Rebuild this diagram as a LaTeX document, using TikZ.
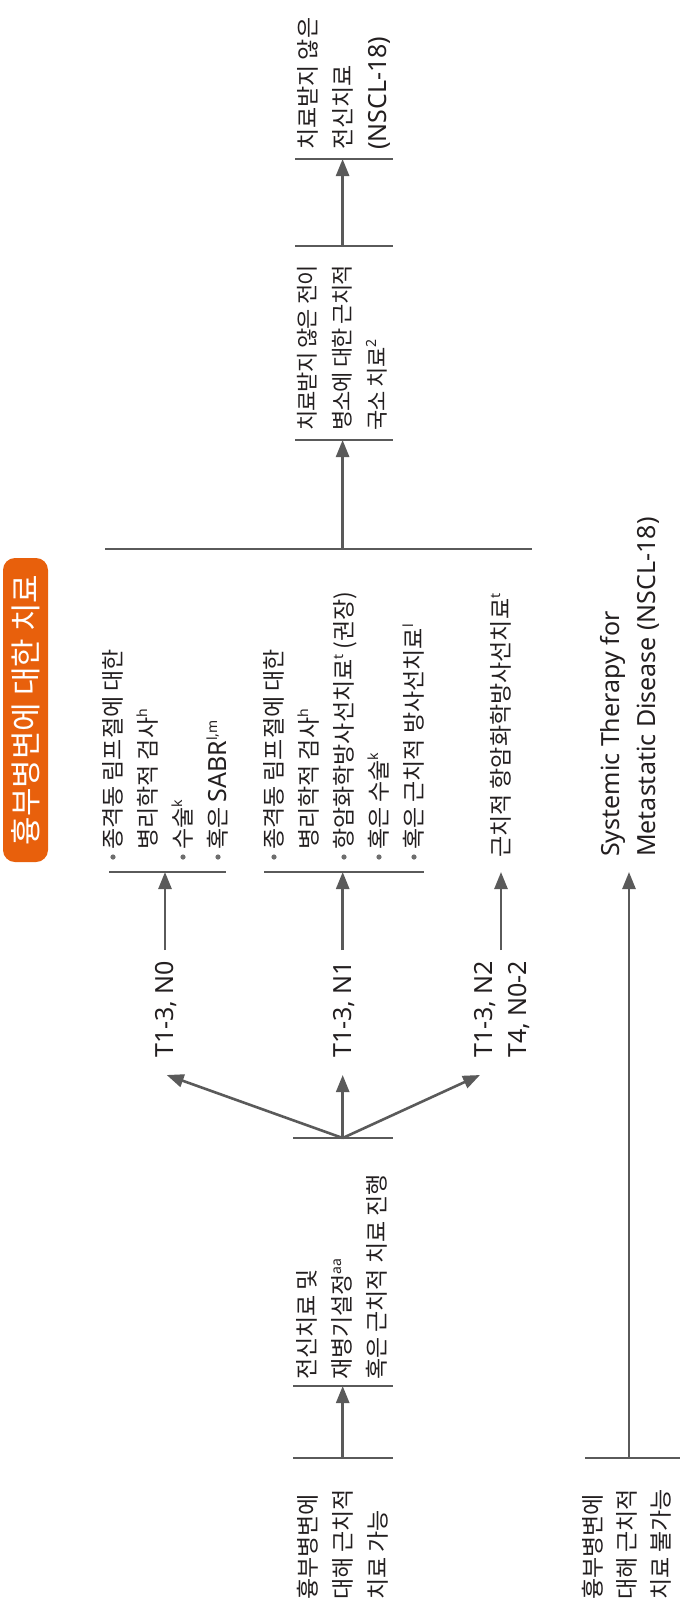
\documentclass[tikz,border=0pt]{standalone}
\usepackage{fontspec}
\setmainfont{Noto Sans CJK KR}
\newfontfamily\krtight{Noto Sans CJK KR}[LetterSpace=-4]
\newfontfamily\latinfont{Noto Sans}
\usetikzlibrary{arrows.meta}
\definecolor{ink}{HTML}{231F20}
\definecolor{wire}{HTML}{5A5A5A}
\definecolor{dotgray}{HTML}{6D6D6D}
\definecolor{banner}{HTML}{E8600C}
\newcommand{\kt}{\fontsize{23}{28}\selectfont}
\newcommand{\ks}{\krtight\fontsize{22}{26}\selectfont}
\newcommand{\la}[1]{{\latinfont\fontsize{25}{28}\selectfont #1}}
\newcommand{\sps}[1]{\raisebox{9.5pt}{\latinfont\fontsize{14}{14}\selectfont #1}}

\begin{document}
\begin{tikzpicture}[x=1pt,y=-1pt,
  ln/.style={rotate=90,anchor=base west,inner sep=0pt,text=ink,font=\kt},
  lnsmall/.style={ln,font=\ks},
  bar/.style={draw=wire,line width=2.6pt},
  arr/.style={draw=wire,line width=2.6pt,-{Triangle[length=17pt,width=13pt]}},
  bul/.style={fill=dotgray},
  banner box/.style={fill=banner,rounded corners=12pt,rotate=90,inner sep=0pt,
    minimum width=304pt,minimum height=45pt,text=white,
    font=\fontsize{31}{33}\selectfont}]

\fill[white] (0,0) rectangle (680,1604);
\useasboundingbox (0,0) rectangle (680,1604);

% heading
\node[banner box] (title) at (25.5,710) {흉부병변에 대한 치료};

% systemic therapy for untreated disease
\node[ln] (ua) at (316,150) {치료받지 않은};
\node[ln] (ub) at (351,150) {전신치료};
\node[ln] (uc) at (386,150) {\la{(NSCL-18)}};
\draw[bar] (295,159) -- (393,159);
\coordinate (topin) at (342.6,159);

% local therapy for remaining lesions
\node[lnsmall] (ra) at (315.5,431) {치료받지 않은 전이};
\node[lnsmall] (rb) at (350.5,431) {병소에 대한 근치적};
\node[lnsmall] (rc) at (385.5,431) {국소 치료\sps{2}};
\draw[bar] (295,246) -- (393,246);
\draw[bar] (295,440) -- (393,440);
\coordinate (loctop) at (342.6,246);
\coordinate (locbot) at (342.6,440);
\draw[arr] (loctop) -- (topin);

% collecting bar over the three branches
\draw[bar] (105,549) -- (532,549);
\coordinate (merge) at (342.6,549);
\draw[arr] (merge) -- (locbot);

% branch T1-3, N0
\node[ln] (n0a) at (121.7,850) {종격동 림프절에 대한};
\node[ln] (n0b) at (156.7,850) {병리학적 검사\sps{h}};
\node[ln] (n0c) at (191.7,850) {수술\sps{k}};
\node[ln] (n0d) at (226.7,850) {혹은 \la{SABR}\sps{l,m}};
\foreach \bx in {113,183,218} \fill[bul] (\bx,857) circle (2.6pt);
\draw[bar] (109,872) -- (226,872);
\coordinate (n0in) at (165,872);
\node[ln] (l0) at (173.9,1058) {\la{T1-3, N0}};
\coordinate (l0top) at (165,950);
\draw[arr] (l0top) -- (n0in);

% branch T1-3, N1
\node[ln] (n1a) at (282.7,850) {종격동 림프절에 대한};
\node[ln] (n1b) at (317.7,850) {병리학적 검사\sps{h}};
\node[ln] (n1c) at (352.7,850) {항암화학방사선치료\sps{t} (권장)};
\node[ln] (n1d) at (387.7,850) {혹은 수술\sps{k}};
\node[ln] (n1e) at (422.7,850) {혹은 근치적 방사선치료\sps{l}};
\foreach \bx in {274,344,379,414} \fill[bul] (\bx,857) circle (2.6pt);
\draw[bar] (264,872) -- (424,872);
\coordinate (n1in) at (342.7,872);
\node[ln] (l1) at (351.6,1058) {\la{T1-3, N1}};
\coordinate (l1top) at (342.7,950);
\draw[arr] (l1top) -- (n1in);

% branch T1-3, N2 / T4, N0-2
\node[ln] (n2a) at (509.7,858) {근치적 항암화학방사선치료\sps{t}};
\coordinate (n2in) at (501,872);
\node[ln] (l2a) at (492.9,1058) {\la{T1-3, N2}};
\node[ln] (l2b) at (526.9,1058) {\la{T4, N0-2}};
\coordinate (l2top) at (501,950);
\draw[arr] (l2top) -- (n2in);

% split into the three branches
\draw[bar] (293,1138) -- (393,1138);
\coordinate (fan) at (342.7,1138);
\coordinate (f0) at (166.7,1075);
\coordinate (f1) at (342.7,1075);
\coordinate (f2) at (480,1075);
\draw[arr] (fan) -- (f0);
\draw[arr] (fan) -- (f1);
\draw[arr] (fan) -- (f2);

% systemic therapy and restaging
\node[ln] (sa) at (315.7,1380) {전신치료 및};
\node[ln] (sb) at (350.7,1380) {재병기설정\sps{aa}};
\node[ln] (sc) at (385.7,1380) {혹은 근치적 치료 진행};
\draw[bar] (293,1386) -- (393,1386);
\coordinate (sbot) at (342.7,1386);

% thoracic disease amenable to definitive therapy
\node[ln] (da) at (316.7,1600) {흉부병변에};
\node[ln] (db) at (351.7,1600) {대해 근치적};
\node[ln] (dc) at (386.7,1600) {치료 가능};
\draw[bar] (293,1458) -- (393,1458);
\coordinate (dtop) at (342.7,1458);
\draw[arr] (dtop) -- (sbot);

% thoracic disease not amenable to definitive therapy
\node[ln] (ea) at (601.7,1600) {흉부병변에};
\node[ln] (eb) at (635.7,1600) {대해 근치적};
\node[ln] (ec) at (669.7,1600) {치료 불가능};
\draw[bar] (585,1458) -- (680,1458);
\coordinate (etop) at (629,1458);
\node[ln] (ma) at (619.9,857) {\la{Systemic Therapy for}};
\node[ln] (mb) at (655.9,857) {\la{Metastatic Disease (NSCL-18)}};
\coordinate (min) at (629,872);
\draw[arr] (etop) -- (min);

\end{tikzpicture}
\end{document}
